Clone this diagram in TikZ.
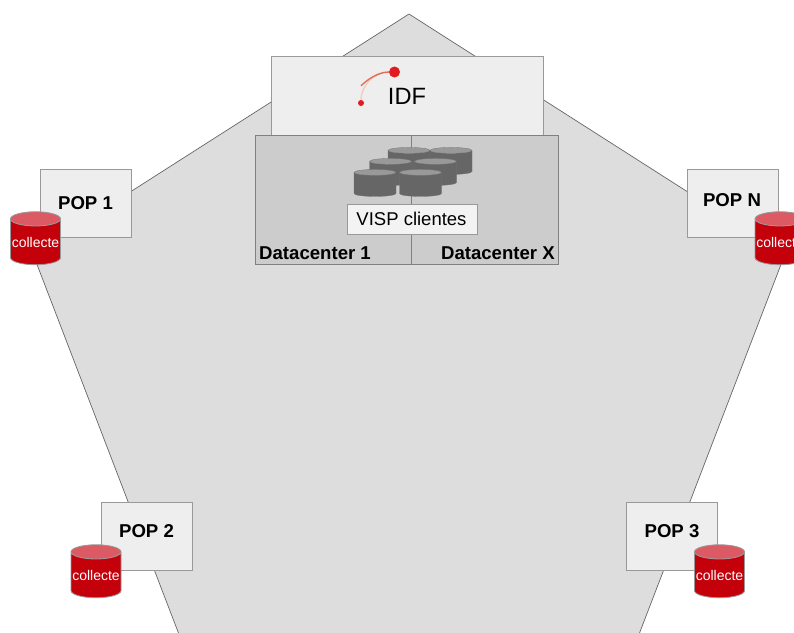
\documentclass[tikz,border=0pt]{standalone}
\usepackage{fontspec}
\setmainfont{Liberation Sans}
\usetikzlibrary{shapes.geometric}
\definecolor{zonegray}{HTML}{DDDDDD}
\definecolor{boxgray}{HTML}{EEEEEE}
\definecolor{dcgray}{HTML}{CCCCCC}
\definecolor{edgegray}{HTML}{999999}
\definecolor{collred}{HTML}{C4000B}
\definecolor{colltop}{HTML}{DC5A63}
\definecolor{logored}{HTML}{E11B22}
\definecolor{logopale}{HTML}{F2CDBF}
\definecolor{logomid}{HTML}{E0705A}
\tikzset{
  popbox/.style={draw=edgegray,fill=boxgray,line width=0.9pt,minimum width=91pt,minimum height=68pt,inner sep=0pt,outer sep=0pt},
  dcbox/.style={draw=gray,fill=dcgray,line width=0.8pt,minimum height=129pt,inner sep=0pt,outer sep=0pt},
  poplabel/.style={inner sep=0pt,font=\fontsize{18.6}{20}\selectfont\bfseries},
  collcyl/.style={cylinder,shape border rotate=90,shape aspect=0.3,draw=edgegray,line width=0.8pt,cylinder uses custom fill,cylinder body fill=collred,cylinder end fill=colltop,minimum width=50pt,minimum height=53pt,inner sep=0pt,outer sep=0pt,text=white,font=\fontsize{14}{16}\selectfont},
  dbcyl/.style={cylinder,shape border rotate=90,shape aspect=0.14,draw=black!55,line width=0.3pt,cylinder uses custom fill,cylinder body fill=black!60,cylinder end fill=black!40,text width=42pt,minimum width=42pt,minimum height=27pt,inner sep=0pt,outer sep=0pt},
  logodot/.style={circle,fill=logored,inner sep=0pt},
}
\begin{document}
\begin{tikzpicture}[x=1pt,y=-1pt]
    \useasboundingbox (0,0) rectangle (794,632);
    \clip (0,0) rectangle (794,632);

    \coordinate (T) at (409,14);
    \coordinate (L) at (33,254);
    \coordinate (BL) at (185,650);
    \coordinate (BR) at (633,650);
    \coordinate (R) at (785,254);
    \draw[draw=black!60,fill=zonegray,line width=0.7pt] (T) -- (R) -- (BR) -- (BL) -- (L) -- cycle;

    \node[popbox,minimum width=272pt,minimum height=79pt] at (407,95.5) (IDF) {};
    \node[dcbox,minimum width=155.5pt] at (333.25,199.5) (DC1) {};
    \node[dcbox,minimum width=147pt] at (484.5,199.5) (DCX) {};

    \node[logodot,minimum size=6pt] at (361,103) (dotA) {};
    \node[logodot,minimum size=11pt] at (394.5,72) (dotB) {};
    \draw[color=logopale,line width=1.4pt] (dotA) .. controls (361,86) and (374,72) .. (dotB);
    \draw[color=logomid,line width=1.4pt,shorten <=14pt] (dotA) .. controls (361,86) and (374,72) .. (dotB);
    \node[font=\fontsize{23.6}{26}\selectfont,inner sep=0pt] at (407,96) (IDFtext) {IDF};

    \node[dbcyl] at (409,162.5) (db1) {};
    \node[dbcyl] at (451,162.5) (db2) {};
    \node[dbcyl] at (390.5,173.5) (db3) {};
    \node[dbcyl] at (435.5,173.5) (db4) {};
    \node[dbcyl] at (375,184.5) (db5) {};
    \node[dbcyl] at (420.5,184.5) (db6) {};

    \node[popbox,minimum width=130pt,minimum height=30pt,fill=boxgray!70!white] at (412,219) (VISP) {};
    \node[font=\fontsize{18.5}{20}\selectfont,inner sep=0pt] at (411.5,219) (VISPtext) {VISP clientes};
    \node[poplabel,anchor=base west] at (259,259) (DC1text) {Datacenter 1};
    \node[poplabel,anchor=base east] at (555,259) (DCXtext) {Datacenter X};

    \node[popbox] at (85.5,203) (POP1) {};
    \node[popbox] at (732.5,203) (POPN) {};
    \node[popbox] at (146.5,536) (POP2) {};
    \node[popbox] at (672,536) (POP3) {};
    \node[poplabel] at (85.5,203.5) (POP1text) {POP 1};
    \node[poplabel] at (732,200) (POPNtext) {POP N};
    \node[poplabel] at (146.5,531.5) (POP2text) {POP 2};
    \node[poplabel] at (672,531.5) (POP3text) {POP 3};

    \node[collcyl] at (35.5,242) (coll1) {collecte};
    \node[collcyl] at (780,242) (collN) {collecte};
    \node[collcyl] at (96,575) (coll2) {collecte};
    \node[collcyl] at (719.5,575) (coll3) {collecte};
\end{tikzpicture}
\end{document}
